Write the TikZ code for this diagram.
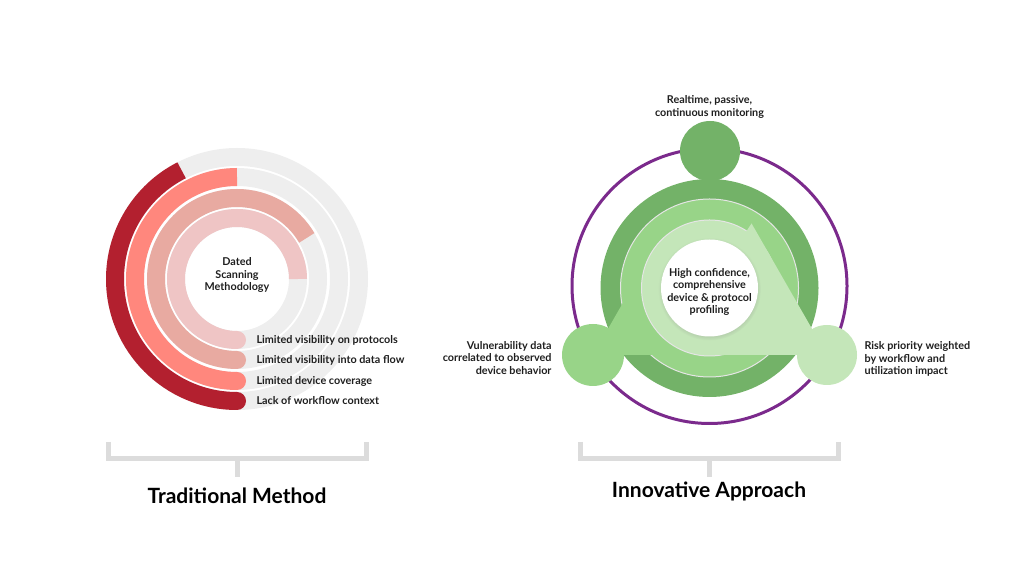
\documentclass[tikz,border=0pt]{standalone}
\usepackage{fontspec}
\setmainfont{Lato}
\usepackage{xcolor}
\definecolor{ink}{HTML}{1F1F1F}
\definecolor{ringgray}{HTML}{EEEEEE}
\definecolor{bracketgray}{HTML}{DCDCDC}
\definecolor{redA}{HTML}{B3202F}
\definecolor{redB}{HTML}{FF877D}
\definecolor{redC}{HTML}{E8AAA1}
\definecolor{redD}{HTML}{EFC5C5}
\definecolor{greenA}{HTML}{73B268}
\definecolor{greenB}{HTML}{98D488}
\definecolor{greenC}{HTML}{C4E6B9}
\definecolor{purp}{HTML}{7B2A8C}
\usetikzlibrary{calc,shadows}

\begin{document}
\begin{tikzpicture}[x=1pt, y=1pt,
	lbl/.style={font=\bfseries\fontsize{10.8}{12.5}\selectfont, text=ink},
	ttl/.style={font=\bfseries\fontsize{21}{24}\selectfont, text=black, anchor=base},
	bracket/.style={bracketgray, line width=5pt},
	ringbg/.style={ringgray, line width=18pt}]

	\useasboundingbox (0,0) rectangle (1024,580);

	% ================= Panel (a): traditional method =================
	\coordinate (L) at (237,301); % centre of the rings

	% grey tracks behind the arcs
	\foreach \r in {122,102,81,61}
		\draw[ringbg] (L) circle (\r);

	% coloured arcs, each with a round end at the bottom
	\foreach \r/\a/\c/\t in {122/117/redA/Lack of workflow context,
		102/90/redB/Limited device coverage,
		81/30.5/redC/Limited visibility into data flow,
		61/0/redD/Limited visibility on protocols}{
		\draw[\c, line width=18pt] ($(L)+(0,-\r)$) arc[start angle=270, end angle=\a, radius=\r];
		\fill[\c] ($(L)+(0,-\r)$) circle (9);
		\node[lbl, anchor=west] (lim\r) at ($(L)+(16,-\r)$) {\t};
	}

	\node[lbl, align=center] (dated) at ($(L)+(0,4)$) {Dated\\Scanning\\Methodology};

	% bracket and title
	\draw[bracket] (108,138) |- (366,121) -- (366,138);
	\draw[bracket] (237,121) -- (237,103);
	\node[ttl] (trad) at (237,76) {Traditional Method};

	% ================= Panel (b): innovative approach =================
	\coordinate (C) at (709.5,292); % centre of the disks
	\coordinate (vt) at (710,429);  % top lobe
	\coordinate (vl) at (593,225);  % left lobe
	\coordinate (vr) at (827,225);  % right lobe

	% purple orbit
	\draw[purp, line width=3pt] (709.5,294) circle (137.5);

	% outer disk with top lobe
	\fill[greenA] (C) circle (109);
	\fill[greenA] (vt) circle (30);

	% middle disk with left lobe
	\fill[greenB, draw=black!10, line width=1pt] (C) circle (89);
	\fill[greenB] (vl) -- ($(vt)!0.3!(vl)$) -- (C) -- (705,225) -- cycle;
	\fill[greenB] (vl) circle (31);

	% inner disk with right lobe
	\fill[greenC, draw=black!10, line width=1pt] (C) circle (68);
	\fill[greenC] (C) -- ($(vt)!0.355!(vr)$) -- (vr) -- (705,225) -- cycle;
	\fill[greenC] (vr) circle (30);

	% white core
	\node[circle, fill=white, minimum size=97pt, inner sep=0pt,
		circular drop shadow={shadow xshift=0pt, shadow yshift=-1pt, shadow scale=1.06, opacity=0.35}] (core) at (C) {};
	\node[lbl, align=center] (profile) at (709.5,288) {High confidence,\\comprehensive\\device \& protocol\\profiling};

	% lobe labels
	\node[lbl, align=center] (realtime) at (709.5,473) {Realtime, passive,\\continuous monitoring};
	\node[lbl, align=right, anchor=east] (vuln) at (555,222) {Vulnerability data\\correlated to observed\\device behavior};
	\node[lbl, align=left, anchor=west] (risk) at (861,221) {Risk priority weighted\\by workflow and\\utilization impact};

	% bracket and title
	\draw[bracket] (580,138) |- (838,121) -- (838,138);
	\draw[bracket] (709,121) -- (709,103);
	\node[ttl] (innov) at (709,82) {Innovative Approach};

\end{tikzpicture}
\end{document}
